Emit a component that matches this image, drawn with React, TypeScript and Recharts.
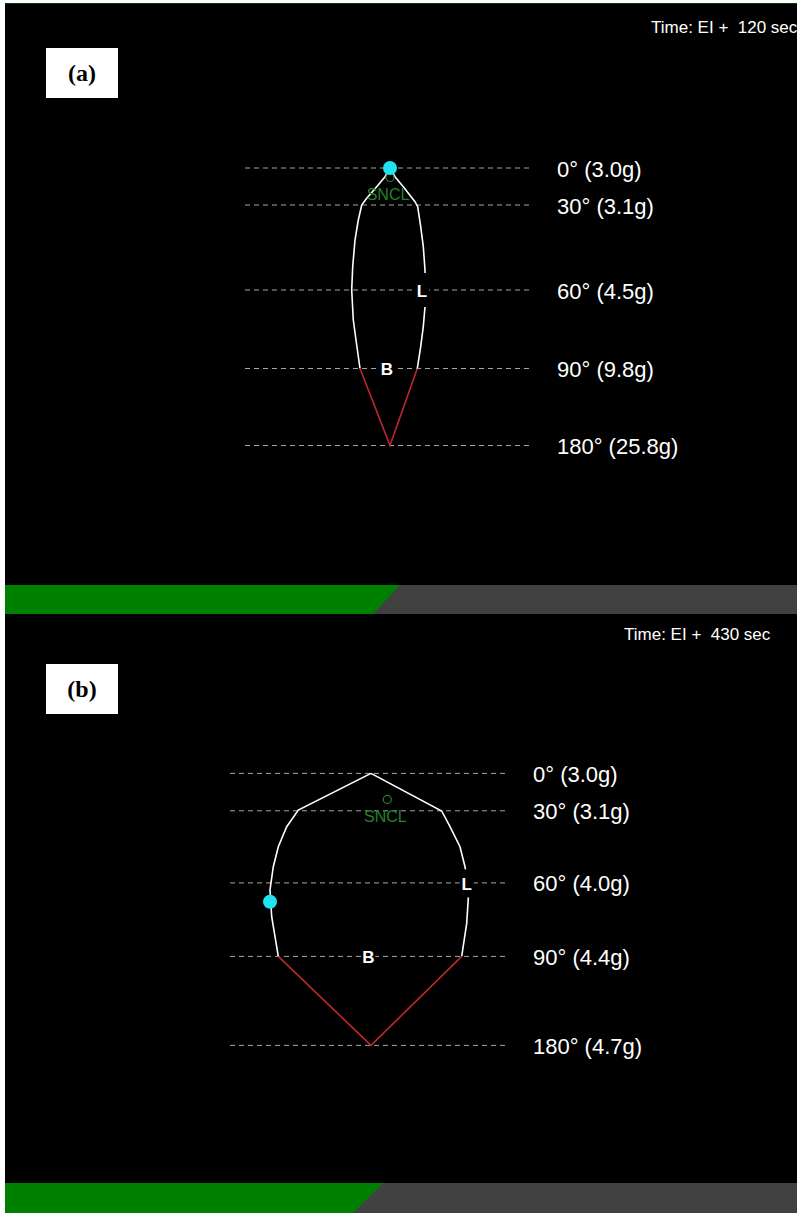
import React from "react";
import { ComposedChart, XAxis, YAxis, Line, Scatter, ReferenceLine } from "recharts";

// g-load envelope display, two snapshots
const levelAngles = ["0°", "30°", "60°", "90°", "180°"];
const gLoadA = [3.0, 3.1, 4.5, 9.8, 25.8];
const gLoadB = [3.0, 3.1, 4.0, 4.4, 4.7];
// depth of each level row below the 0° row
const depthA = [0, 37, 122, 200.5, 277.5];
const depthB = [0, 37.4, 109.5, 183, 272];

// envelope edges: x = lateral offset from centre line, y = depth
const leftEdgeA = [
  { x: 0, y: 0 }, { x: -5, y: 8.7 }, { x: -13.3, y: 18.7 }, { x: -23.3, y: 30.3 },
  { x: -28.3, y: 37 }, { x: -31.7, y: 52 }, { x: -35, y: 72 }, { x: -37.3, y: 98.7 },
  { x: -38.3, y: 122 }, { x: -36.7, y: 152 }, { x: -34, y: 172 }, { x: -30, y: 200.5 },
];
const rightEdgeA = [
  { x: 0, y: 0 }, { x: 5, y: 8.7 }, { x: 13.3, y: 18.7 }, { x: 25, y: 33.7 },
  { x: 27.7, y: 38.7 }, { x: 30.7, y: 58.7 }, { x: 33.3, y: 78.7 }, { x: 35, y: 102 },
  { x: 35.3, y: 122 }, { x: 35, y: 138.7 }, { x: 33.3, y: 158.7 }, { x: 30.7, y: 178.7 },
  { x: 27.3, y: 200.5 },
];
const leftEdgeB = [
  { x: 0, y: 0 }, { x: -72.7, y: 36.6 }, { x: -84.3, y: 53.3 }, { x: -92.7, y: 73.3 },
  { x: -97.7, y: 93.3 }, { x: -101, y: 116.6 }, { x: -99.3, y: 143.3 }, { x: -96, y: 163.3 },
  { x: -92.7, y: 183 },
];
const rightEdgeB = [
  { x: 0, y: 0 }, { x: 70.7, y: 37.6 }, { x: 79, y: 53.3 }, { x: 89, y: 73.3 },
  { x: 94, y: 93.3 }, { x: 96.5, y: 110 }, { x: 97.3, y: 125 }, { x: 95.7, y: 150 },
  { x: 90.7, y: 183 },
];

const cursorA = [{ x: 0, y: 0 }];
const cursorB = [{ x: -101, y: 128.3 }];
const lMarkA = [{ x: 32, y: 122 }];
const lMarkB = [{ x: 95.7, y: 110 }];
const bMarkA = [{ x: -3, y: 200.5 }];
const bMarkB = [{ x: -2.7, y: 183 }];
const snclA = [{ x: 0, y: 9.5 }];
const snclB = [{ x: 16.3, y: 26 }];

const FONT = "'Liberation Sans', Arial, sans-serif";

const levelLabel = (text: string) => (props: any) => {
  const vb = props.viewBox || {};
  return (
    <text
      x={vb.x + vb.width + 27}
      y={vb.y + 1}
      fill="#ffffff"
      fontSize={22}
      fontFamily={FONT}
      dominantBaseline="central"
    >
      {text}
    </text>
  );
};

const letterShape = (letter: string, boxH: number) => (p: any) => (
  <g>
    <rect x={p.cx - 7} y={p.cy - boxH / 2} width={14} height={boxH} fill="#000" />
    <text
      x={p.cx}
      y={p.cy + 1}
      textAnchor="middle"
      dominantBaseline="central"
      fill="#fff"
      fontWeight="bold"
      fontSize={17}
      fontFamily={FONT}
    >
      {letter}
    </text>
  </g>
);

const cursorShape = (p: any) => <circle cx={p.cx} cy={p.cy} r={7} fill="#1fe3ee" />;

const snclShape = (p: any) => (
  <g>
    <circle cx={p.cx} cy={p.cy} r={4} fill="none" stroke="#24802a" strokeWidth={1.2} />
    <text
      x={p.cx - 2}
      y={p.cy + 17}
      textAnchor="middle"
      dominantBaseline="central"
      fill="#24802a"
      fontSize={16}
      fontFamily={FONT}
    >
      SNCL
    </text>
  </g>
);

interface PanelProps {
  height: number;
  xDomain: [number, number];
  yDomain: [number, number];
  gLoads: number[];
  depth: number[];
  guide: [number, number];
  leftEdge: { x: number; y: number }[];
  rightEdge: { x: number; y: number }[];
  cursor: { x: number; y: number }[];
  lMark: { x: number; y: number }[];
  bMark: { x: number; y: number }[];
  sncl: { x: number; y: number }[];
  lBox: number;
}

function Panel(p: PanelProps) {
  const bottom = { x: 0, y: p.depth[p.depth.length - 1] };
  const redV = [p.leftEdge[p.leftEdge.length - 1], bottom, p.rightEdge[p.rightEdge.length - 1]];
  return (
    <ComposedChart
      width={792}
      height={p.height}
      margin={{ top: 0, right: 0, bottom: 0, left: 0 }}
      style={{ background: "#000" }}
    >
      <XAxis type="number" dataKey="x" domain={p.xDomain} allowDataOverflow hide />
      <YAxis type="number" dataKey="y" domain={p.yDomain} allowDataOverflow reversed hide />
      {p.depth.map((d, i) => (
        <ReferenceLine
          key={i}
          segment={[
            { x: p.guide[0], y: d },
            { x: p.guide[1], y: d },
          ]}
          stroke="#a6a6a6"
          strokeWidth={1}
          strokeDasharray="5 4"
          ifOverflow="visible"
          label={levelLabel(`${levelAngles[i]} (${p.gLoads[i].toFixed(1)}g)`)}
        />
      ))}
      <Line data={p.leftEdge} dataKey="y" type="linear" stroke="#ffffff" strokeWidth={1.6} dot={false} isAnimationActive={false} />
      <Line data={p.rightEdge} dataKey="y" type="linear" stroke="#ffffff" strokeWidth={1.6} dot={false} isAnimationActive={false} />
      <Line data={redV} dataKey="y" type="linear" stroke="#c0282c" strokeWidth={1.6} dot={false} isAnimationActive={false} />
      <Scatter data={p.sncl} shape={snclShape} isAnimationActive={false} />
      <Scatter data={p.lMark} shape={letterShape("L", p.lBox)} isAnimationActive={false} />
      <Scatter data={p.bMark} shape={letterShape("B", 16)} isAnimationActive={false} />
      <Scatter data={p.cursor} shape={cursorShape} isAnimationActive={false} />
    </ComposedChart>
  );
}

function ProgressBar({ top, height, topEnd, bottomEnd }: { top: number; height: number; topEnd: number; bottomEnd: number }) {
  return (
    <svg style={{ position: "absolute", left: 5, top }} width={792} height={height}>
      <rect x={0} y={0} width={792} height={height} fill="#404040" />
      <polygon points={`0,0 ${topEnd},0 ${bottomEnd},${height} 0,${height}`} fill="#008000" />
    </svg>
  );
}

const tagStyle: React.CSSProperties = {
  position: "absolute",
  left: 46,
  width: 72,
  height: 50,
  background: "#fff",
  color: "#000",
  fontFamily: "'Liberation Serif', 'Times New Roman', serif",
  fontWeight: "bold",
  fontSize: 24,
  display: "flex",
  alignItems: "center",
  justifyContent: "center",
};

const timeStyle: React.CSSProperties = {
  position: "absolute",
  color: "#fff",
  fontFamily: FONT,
  fontSize: 17,
  whiteSpace: "pre",
  lineHeight: "20px",
};

export default function App() {
  return (
    <div
      style={{
        position: "absolute",
        left: 0,
        top: 0,
        width: 797,
        height: 1216,
        background: "#fff",
        overflow: "hidden",
      }}
    >
      <div style={{ position: "absolute", left: 5, top: 3, width: 792, height: 1, background: "#0b3d0b" }} />
      <div style={{ position: "absolute", left: 5, top: 4 }}>
        <Panel
          height={581}
          xDomain={[-385, 407]}
          yDomain={[-164, 417]}
          gLoads={gLoadA}
          depth={depthA}
          guide={[-145, 140]}
          leftEdge={leftEdgeA}
          rightEdge={rightEdgeA}
          cursor={cursorA}
          lMark={lMarkA}
          bMark={bMarkA}
          sncl={snclA}
          lBox={34}
        />
      </div>
      <ProgressBar top={585} height={29} topEnd={395} bottomEnd={368} />
      <div style={{ position: "absolute", left: 5, top: 614 }}>
        <Panel
          height={569}
          xDomain={[-366, 426]}
          yDomain={[-159.4, 409.6]}
          gLoads={gLoadB}
          depth={depthB}
          guide={[-141, 135]}
          leftEdge={leftEdgeB}
          rightEdge={rightEdgeB}
          cursor={cursorB}
          lMark={lMarkB}
          bMark={bMarkB}
          sncl={snclB}
          lBox={28}
        />
      </div>
      <ProgressBar top={1183} height={30} topEnd={378} bottomEnd={348} />
      <div style={{ ...tagStyle, top: 48 }}>(a)</div>
      <div style={{ ...tagStyle, top: 664 }}>(b)</div>
      <div style={{ ...timeStyle, left: 651, top: 18 }}>{"Time: EI +  120 sec"}</div>
      <div style={{ ...timeStyle, left: 624, top: 625 }}>{"Time: EI +  430 sec"}</div>
    </div>
  );
}
